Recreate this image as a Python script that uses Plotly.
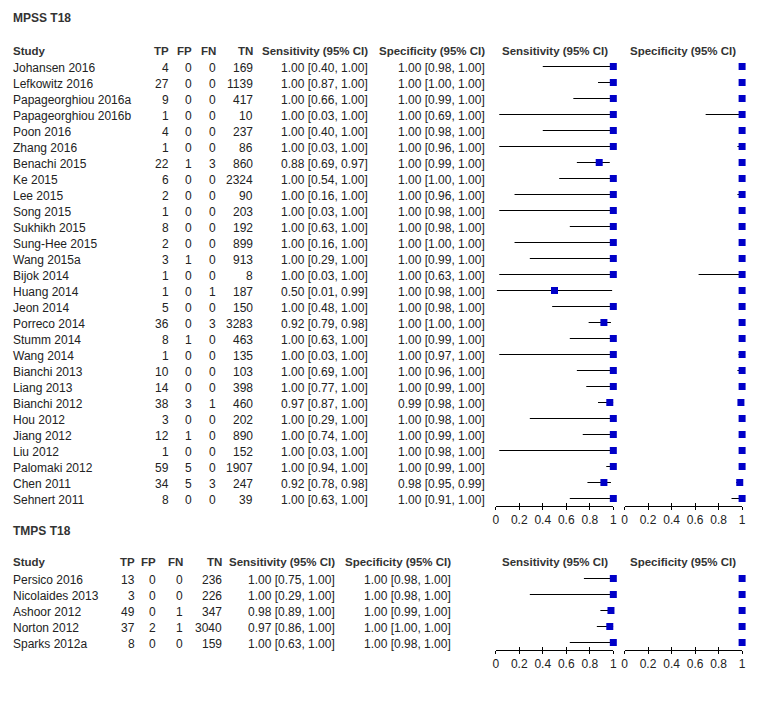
import plotly.graph_objects as go

# ---------------- data ----------------
mpss_study = ["Johansen 2016", "Lefkowitz 2016", "Papageorghiou 2016a", "Papageorghiou 2016b",
              "Poon 2016", "Zhang 2016", "Benachi 2015", "Ke 2015", "Lee 2015", "Song 2015",
              "Sukhikh 2015", "Sung-Hee 2015", "Wang 2015a", "Bijok 2014", "Huang 2014",
              "Jeon 2014", "Porreco 2014", "Stumm 2014", "Wang 2014", "Bianchi 2013",
              "Liang 2013", "Bianchi 2012", "Hou 2012", "Jiang 2012", "Liu 2012",
              "Palomaki 2012", "Chen 2011", "Sehnert 2011"]
mpss_tp = [4, 27, 9, 1, 4, 1, 22, 6, 2, 1, 8, 2, 3, 1, 1, 5, 36, 8, 1, 10, 14, 38, 3, 12, 1, 59, 34, 8]
mpss_fp = [0, 0, 0, 0, 0, 0, 1, 0, 0, 0, 0, 0, 1, 0, 0, 0, 0, 1, 0, 0, 0, 3, 0, 1, 0, 5, 5, 0]
mpss_fn = [0, 0, 0, 0, 0, 0, 3, 0, 0, 0, 0, 0, 0, 0, 1, 0, 3, 0, 0, 0, 0, 1, 0, 0, 0, 0, 3, 0]
mpss_tn = [169, 1139, 417, 10, 237, 86, 860, 2324, 90, 203, 192, 899, 913, 8, 187, 150, 3283,
           463, 135, 103, 398, 460, 202, 890, 152, 1907, 247, 39]
mpss_sens = [1.00, 1.00, 1.00, 1.00, 1.00, 1.00, 0.88, 1.00, 1.00, 1.00, 1.00, 1.00, 1.00, 1.00,
             0.50, 1.00, 0.92, 1.00, 1.00, 1.00, 1.00, 0.97, 1.00, 1.00, 1.00, 1.00, 0.92, 1.00]
mpss_sens_lo = [0.40, 0.87, 0.66, 0.03, 0.40, 0.03, 0.69, 0.54, 0.16, 0.03, 0.63, 0.16, 0.29, 0.03,
                0.01, 0.48, 0.79, 0.63, 0.03, 0.69, 0.77, 0.87, 0.29, 0.74, 0.03, 0.94, 0.78, 0.63]
mpss_sens_hi = [1.00, 1.00, 1.00, 1.00, 1.00, 1.00, 0.97, 1.00, 1.00, 1.00, 1.00, 1.00, 1.00, 1.00,
                0.99, 1.00, 0.98, 1.00, 1.00, 1.00, 1.00, 1.00, 1.00, 1.00, 1.00, 1.00, 0.98, 1.00]
mpss_spec = [1.00, 1.00, 1.00, 1.00, 1.00, 1.00, 1.00, 1.00, 1.00, 1.00, 1.00, 1.00, 1.00, 1.00,
             1.00, 1.00, 1.00, 1.00, 1.00, 1.00, 1.00, 0.99, 1.00, 1.00, 1.00, 1.00, 0.98, 1.00]
mpss_spec_lo = [0.98, 1.00, 0.99, 0.69, 0.98, 0.96, 0.99, 1.00, 0.96, 0.98, 0.98, 1.00, 0.99, 0.63,
                0.98, 0.98, 1.00, 0.99, 0.97, 0.96, 0.99, 0.98, 0.98, 0.99, 0.98, 0.99, 0.95, 0.91]
mpss_spec_hi = [1.00, 1.00, 1.00, 1.00, 1.00, 1.00, 1.00, 1.00, 1.00, 1.00, 1.00, 1.00, 1.00, 1.00,
                1.00, 1.00, 1.00, 1.00, 1.00, 1.00, 1.00, 1.00, 1.00, 1.00, 1.00, 1.00, 0.99, 1.00]

tmps_study = ["Persico 2016", "Nicolaides 2013", "Ashoor 2012", "Norton 2012", "Sparks 2012a"]
tmps_tp = [13, 3, 49, 37, 8]
tmps_fp = [0, 0, 0, 2, 0]
tmps_fn = [0, 0, 1, 1, 0]
tmps_tn = [236, 226, 347, 3040, 159]
tmps_sens = [1.00, 1.00, 0.98, 0.97, 1.00]
tmps_sens_lo = [0.75, 0.29, 0.89, 0.86, 0.63]
tmps_sens_hi = [1.00, 1.00, 1.00, 1.00, 1.00]
tmps_spec = [1.00, 1.00, 1.00, 1.00, 1.00]
tmps_spec_lo = [0.98, 0.98, 0.99, 1.00, 0.98]
tmps_spec_hi = [1.00, 1.00, 1.00, 1.00, 1.00]

tick_vals = [0, 0.2, 0.4, 0.6, 0.8, 1]
tick_text = ["0", "0.2", "0.4", "0.6", "0.8", "1"]
headers = ["Study", "TP", "FP", "FN", "TN", "Sensitivity (95% CI)", "Specificity (95% CI)"]

# ---------------- layout helpers ----------------
OFF = 8                      # page body margin of the html page
W, H = 757 - OFF, 708 - OFF  # figure size so the page fits the window
FONT = "Liberation Sans, Arial, sans-serif"
TXT = "#222222"
HEAD = "#333333"
MARK = "#0000C8"
HEAD_FONT = dict(family=FONT, size=11.5, color=HEAD, weight="bold")
BODY_FONT = dict(family=FONT, size=12, color=TXT)


def px(x):
    return (x - OFF) / W


def py(y):
    return 1 - (y - OFF) / H


def yrange(row0, step, top_px, bottom_px):
    return [(bottom_px - row0) / step, (top_px - row0) / step]


sections = [
    dict(title="MPSS T18", study=mpss_study, tp=mpss_tp, fp=mpss_fp, fn=mpss_fn, tn=mpss_tn,
         sens=mpss_sens, slo=mpss_sens_lo, shi=mpss_sens_hi,
         spec=mpss_spec, plo=mpss_spec_lo, phi=mpss_spec_hi,
         row0=66.5, top=10, bottom=506, title_px=18, head_px=51,
         cols=[10, 167, 191, 215, 252.5, 368.5, 486.5]),
    dict(title="TMPS T18", study=tmps_study, tp=tmps_tp, fp=tmps_fp, fn=tmps_fn, tn=tmps_tn,
         sens=tmps_sens, slo=tmps_sens_lo, shi=tmps_sens_hi,
         spec=tmps_spec, plo=tmps_spec_lo, phi=tmps_spec_hi,
         row0=578.5, top=520, bottom=650, title_px=531, head_px=562,
         cols=[10, 133.5, 154, 182, 220.5, 335.5, 452.5]),
]
STEP = 16
SENS_DOM = [px(497.3), px(616)]
SPEC_DOM = [px(627.3), px(746)]

fig = go.Figure()
annotations = []
layout = dict(
    width=W, height=H, margin=dict(l=0, r=0, t=0, b=0), autosize=False,
    paper_bgcolor="white", plot_bgcolor="rgba(0,0,0,0)",
    showlegend=False, font=dict(family=FONT, size=12, color=TXT),
)

ax_i = 1
for s_i, sec in enumerate(sections):
    yname = "y" if s_i == 0 else "y2"
    ykey = "yaxis" if s_i == 0 else "yaxis2"
    yr = yrange(sec["row0"], STEP, sec["top"], sec["bottom"])
    layout[ykey] = dict(domain=[py(sec["bottom"]), py(sec["top"])], range=yr,
                        visible=False, fixedrange=True,
                        anchor="x" if s_i == 0 else "x3")
    n = len(sec["study"])
    rows = list(range(n))
    for k, (dom, est, lo, hi, head) in enumerate([
            (SENS_DOM, sec["sens"], sec["slo"], sec["shi"], "Sensitivity (95% CI)"),
            (SPEC_DOM, sec["spec"], sec["plo"], sec["phi"], "Specificity (95% CI)")]):
        xa = "x" if ax_i == 1 else f"x{ax_i}"
        xkey = "xaxis" if ax_i == 1 else f"xaxis{ax_i}"
        layout[xkey] = dict(domain=dom, range=[0, 1], anchor=yname,
                            showgrid=False, zeroline=False, showline=True,
                            linecolor="black", linewidth=1,
                            ticks="outside", ticklen=3, tickwidth=1, tickcolor="black",
                            tickmode="array", tickvals=tick_vals, ticktext=tick_text,
                            tickfont=dict(family=FONT, size=12, color=TXT), fixedrange=True)
        # overlay axis drawing the upper half of the crossing tick marks
        ov = ax_i + 4
        layout[f"xaxis{ov}"] = dict(domain=dom, range=[0, 1], anchor=yname,
                                   overlaying=xa, showgrid=False, zeroline=False,
                                   showline=False, ticks="inside", ticklen=3, tickwidth=1,
                                   tickcolor="black", tickmode="array", tickvals=tick_vals,
                                   showticklabels=False, fixedrange=True)
        fig.add_trace(go.Scatter(x=[], y=[], xaxis=f"x{ov}", yaxis=yname, mode="markers",
                                 hoverinfo="skip"))
        fig.add_trace(go.Scatter(
            x=est, y=rows, xaxis=xa, yaxis=yname, mode="markers",
            marker=dict(symbol="square", size=7, color=MARK, line=dict(width=0)),
            error_x=dict(type="data", symmetric=False,
                         array=[h - e for h, e in zip(hi, est)],
                         arrayminus=[e - l for e, l in zip(est, lo)],
                         color="black", thickness=1, width=0),
            cliponaxis=False, hoverinfo="skip"))
        annotations.append(dict(text=head, x=(dom[0] + dom[1]) / 2, xref="paper",
                                y=(sec["head_px"] - sec["row0"]) / STEP, yref=yname,
                                xanchor="center", yanchor="middle", showarrow=False,
                                borderpad=0, borderwidth=0, font=HEAD_FONT))
        ax_i += 1

    # section title
    annotations.append(dict(text=sec["title"], x=px(10), xref="paper",
                            y=(sec["title_px"] - sec["row0"]) / STEP, yref=yname,
                            xanchor="left", yanchor="middle", showarrow=False,
                            borderpad=0, borderwidth=0,
                            font=dict(family=FONT, size=12, color=HEAD, weight="bold")))
    # column headers
    cols = sec["cols"]
    for c, h in enumerate(headers):
        annotations.append(dict(text=h, x=px(cols[c]), xref="paper",
                                y=(sec["head_px"] - sec["row0"]) / STEP, yref=yname,
                                xanchor="left" if c == 0 else "right", yanchor="middle",
                                showarrow=False, borderpad=0, borderwidth=0, font=HEAD_FONT))
    # table body
    for i in range(n):
        vals = [sec["study"][i], str(sec["tp"][i]), str(sec["fp"][i]), str(sec["fn"][i]),
                str(sec["tn"][i]),
                f"{sec['sens'][i]:.2f} [{sec['slo'][i]:.2f}, {sec['shi'][i]:.2f}]",
                f"{sec['spec'][i]:.2f} [{sec['plo'][i]:.2f}, {sec['phi'][i]:.2f}]"]
        for c, v in enumerate(vals):
            annotations.append(dict(text=v, x=px(cols[c]), xref="paper",
                                    y=i + 0.1, yref=yname,
                                    xanchor="left" if c == 0 else "right", yanchor="middle",
                                    showarrow=False, borderpad=0, borderwidth=0, font=BODY_FONT))

layout["annotations"] = annotations
fig.update_layout(**layout)
fig.write_html("out.html")
